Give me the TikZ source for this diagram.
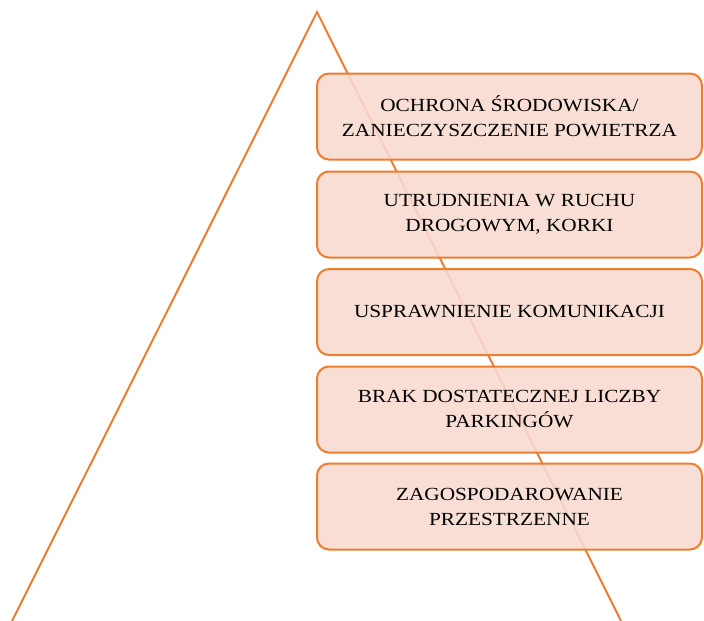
\documentclass[tikz,border=0pt]{standalone}
\usepackage{fontspec}
\setmainfont[FakeStretch=1.15]{Liberation Serif}
\definecolor{orangeline}{HTML}{ED7D31}
\definecolor{peach}{HTML}{F8DAD0}
\begin{document}
\begin{tikzpicture}[x=1pt,y=-1pt,
  listbox/.style={draw=orangeline, line width=2pt, fill=peach, fill opacity=0.88, text opacity=1,
    rounded corners=12pt, minimum width=385pt, minimum height=86pt, align=center,
    font=\fontsize{18.5}{25}\selectfont, inner sep=0pt}]
\useasboundingbox (0,0) rectangle (704,621);
\coordinate (apex) at (317,12);
\coordinate (bl) at (12,621);
\coordinate (br) at (621,621);
\draw[orangeline, line width=2pt, line join=miter] (bl) -- (apex) -- (br);
\node[listbox] (b1) at (509.5,116.5) {OCHRONA ŚRODOWISKA/\\ZANIECZYSZCZENIE POWIETRZA};
\node[listbox] (b2) at (509.5,214.5) {UTRUDNIENIA W RUCHU\\DROGOWYM, KORKI};
\node[listbox] (b3) at (509.5,312) {USPRAWNIENIE KOMUNIKACJI};
\node[listbox] (b4) at (509.5,409.5) {BRAK DOSTATECZNEJ LICZBY\\PARKINGÓW};
\node[listbox] (b5) at (509.5,506.5) {ZAGOSPODAROWANIE\\PRZESTRZENNE};
\end{tikzpicture}
\end{document}
